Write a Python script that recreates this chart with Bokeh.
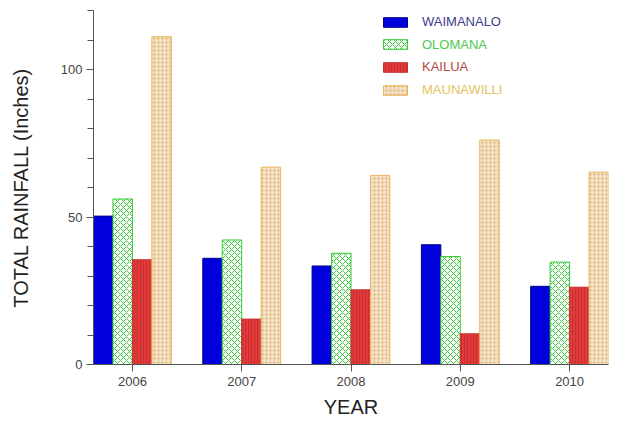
from bokeh.plotting import figure
from bokeh.models import ColumnDataSource, Range1d, FixedTicker, Legend, LegendItem
from bokeh.transform import dodge
from bokeh.embed import file_html
from bokeh.resources import INLINE

years = [2006, 2007, 2008, 2009, 2010]
waimanalo = [50.3, 36.0, 33.4, 40.6, 26.5]
olomana = [56.1, 42.2, 37.7, 36.6, 34.7]
kailua = [35.5, 15.4, 25.3, 10.4, 26.2]
maunawilli = [111.1, 66.9, 64.1, 76.1, 65.2]
series_names = ["WAIMANALO", "OLOMANA", "KAILUA", "MAUNAWILLI"]
y_major_ticks = [0, 50, 100]
y_minor_ticks = [10, 20, 30, 40, 60, 70, 80, 90, 110, 120]

src = ColumnDataSource(dict(year=years, waimanalo=waimanalo, olomana=olomana,
                            kailua=kailua, maunawilli=maunawilli))

FONT = "Liberation Sans"
W = 0.178

p = figure(width=618, height=421, output_backend="svg", toolbar_location=None,
           x_range=Range1d(years[0] - 2 * W, years[-1] + 2 * W),
           y_range=Range1d(0, 120),
           min_border_left=93, min_border_right=10, min_border_top=10, min_border_bottom=57)
p.outline_line_color = None
p.xgrid.visible = False
p.ygrid.visible = False

styles = [
    dict(fill_color="#0000dc", line_color="#00008a"),
    dict(fill_color="#ffffff", line_color="#33cc33", hatch_pattern="x",
         hatch_color="#3ccc3c", hatch_scale=6, hatch_weight=1),
    dict(fill_color="#e23a3a", line_color="#c83030", hatch_pattern="vertical_line",
         hatch_color="#b02828", hatch_scale=3, hatch_weight=1, hatch_alpha=0.5),
    dict(fill_color="#f2e0c4", line_color="#eab45a", hatch_pattern="dot",
         hatch_color="#dcae6a", hatch_scale=4, hatch_weight=1),
]
cols = ["waimanalo", "olomana", "kailua", "maunawilli"]
offsets = [-1.5 * W, -0.5 * W, 0.5 * W, 1.5 * W]
label_colors = ["#3c3c8c", "#50c850", "#b44848", "#e4c45c"]
legend_bottoms = [335, 312.5, 290, 267]

renderers = []
for c, off, st in zip(cols, offsets, styles):
    r = p.vbar(x=dodge("year", off, range=p.x_range), top=c, width=W, bottom=0,
               source=src, line_width=1, **st)
    renderers.append(r)

for name, r, col, yb in zip(series_names, renderers, label_colors, legend_bottoms):
    lg = Legend(items=[LegendItem(label=name, renderers=[r])], location=(287, yb),
                padding=0, margin=0, spacing=0, border_line_color=None,
                background_fill_alpha=0, glyph_width=30, glyph_height=12,
                label_height=12, label_standoff=12,
                label_text_font=FONT, label_text_font_size="13px",
                label_text_color=col)
    p.add_layout(lg, "center")

# axes
p.xaxis.ticker = FixedTicker(ticks=years)
p.xaxis.major_label_overrides = {y: str(y) for y in years}
p.yaxis.ticker = FixedTicker(ticks=y_major_ticks, minor_ticks=y_minor_ticks)
for ax in (p.xaxis[0], p.yaxis[0]):
    ax.axis_line_color = "#555555"
    ax.major_tick_line_color = "#555555"
    ax.minor_tick_line_color = "#555555"
    ax.major_tick_in = 0
    ax.major_tick_out = 7
    ax.minor_tick_in = 0
    ax.minor_tick_out = 6
    ax.major_label_text_font = FONT
    ax.major_label_text_font_size = "13px"
    ax.major_label_text_color = "#444444"
    ax.axis_label_text_font = FONT
    ax.axis_label_text_font_style = "normal"
    ax.axis_label_text_color = "#222222"
p.xaxis.minor_tick_line_color = None
p.xaxis.major_label_standoff = 5
p.yaxis.major_label_standoff = 4
p.xaxis.axis_label = "YEAR"
p.xaxis.axis_label_text_font_size = "20px"
p.xaxis.axis_label_standoff = 7
p.yaxis.axis_label = "TOTAL RAINFALL (Inches)"
p.yaxis.axis_label_text_font_size = "20px"
p.yaxis.axis_label_standoff = 26

open("out.html", "w").write(file_html(p, INLINE))
